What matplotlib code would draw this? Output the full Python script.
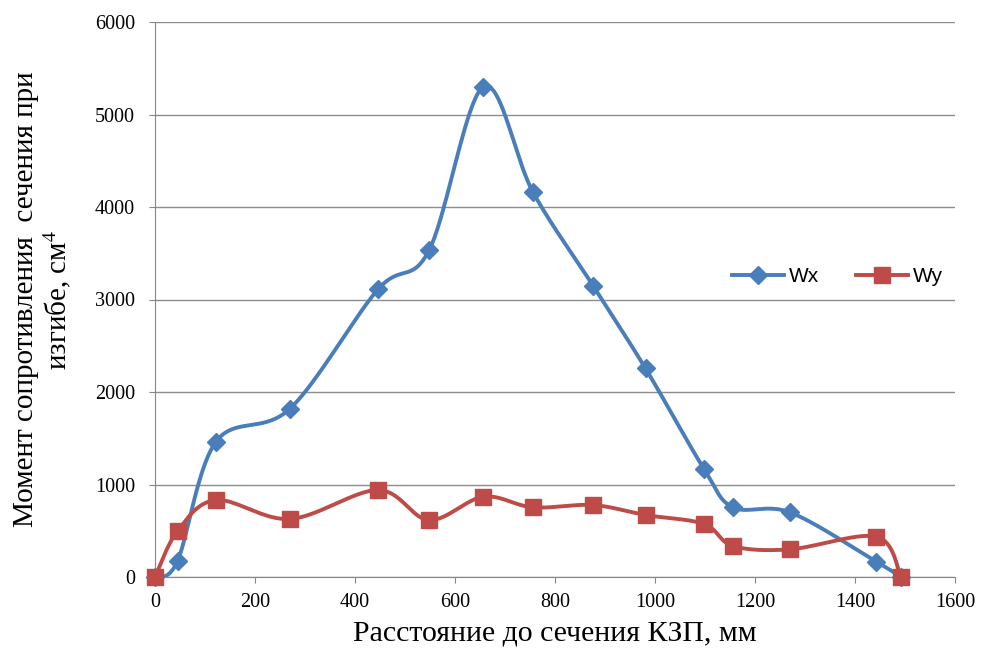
import numpy as np
import matplotlib
matplotlib.use("Agg")
import matplotlib.pyplot as plt
from matplotlib.lines import Line2D

plt.rcParams['font.family'] = ['Liberation Serif', 'DejaVu Serif']
plt.rcParams['mathtext.fontset'] = 'stix'

# расстояние до сечения, мм
dist = [0, 45, 122, 270, 446, 548, 657, 756, 876, 981, 1098, 1156, 1270, 1443, 1492]
wx = [0, 173, 1463, 1820, 3110, 3530, 5300, 4160, 3150, 2255, 1168, 753, 699, 165, 0]
wy = [0, 497, 832, 627, 940, 616, 868, 753, 778, 670, 573, 335, 299, 436, 0]

x_ticks = [0, 200, 400, 600, 800, 1000, 1200, 1400, 1600]
y_ticks = [0, 1000, 2000, 3000, 4000, 5000, 6000]


def smooth(xs, ys, n=40):
    # excel-like smoothed line (cardinal bezier through the points)
    p = np.column_stack([xs, ys]).astype(float)
    out = [p[0]]
    for i in range(len(p) - 1):
        p0 = p[i - 1] if i > 0 else p[i]
        p3 = p[i + 2] if i + 2 < len(p) else p[i + 1]
        c1 = p[i] + (p[i + 1] - p0) / 6
        c2 = p[i + 1] - (p3 - p[i]) / 6
        t = np.linspace(0, 1, n)[1:, None]
        seg = ((1 - t) ** 3 * p[i] + 3 * (1 - t) ** 2 * t * c1
               + 3 * (1 - t) * t ** 2 * c2 + t ** 3 * p[i + 1])
        out.extend(seg)
    out = np.array(out)
    return out[:, 0], out[:, 1]


fig = plt.figure(figsize=(9.84, 6.57), dpi=100)
ax = fig.add_axes([155 / 984, 1 - 577 / 657, 800 / 984, 555 / 657])

blue = '#4a7ebb'
red = '#be4b48'
lw = 2.8

sx, sy = smooth(dist, wx)
ax.plot(sx, sy, color=blue, lw=lw, zorder=3, solid_capstyle='round')
ax.plot(dist, wx, ls='none', marker='D', ms=9.5, color=blue, zorder=4, clip_on=False)

sx, sy = smooth(dist, wy)
ax.plot(sx, sy, color=red, lw=lw, zorder=3, solid_capstyle='round')
ax.plot(dist, wy, ls='none', marker='s', ms=11.5, color=red, zorder=5, clip_on=False)

ax.set_xlim(0, 1600)
ax.set_ylim(0, 6000)
ax.set_xticks(x_ticks)
ax.set_yticks(y_ticks)
ax.tick_params(labelsize=14.5, colors='#868686', labelcolor='black', length=4.5)
ax.tick_params(axis='x', pad=7)
ax.tick_params(axis='y', pad=10)
ax.yaxis.grid(True, color='#8c8c8c', lw=1)
ax.set_axisbelow(True)
for s in ['top', 'right']:
    ax.spines[s].set_visible(False)
for s in ['left', 'bottom']:
    ax.spines[s].set_color('#868686')

ax.set_xlabel('Расстояние до сечения КЗП, мм', fontsize=21.5, labelpad=6)
ax.set_ylabel('Момент сопротивления  сечения при\nизгибе, см$^4$', fontsize=21,
              labelpad=16, linespacing=1.05)

handles = [Line2D([], [], color=blue, lw=lw, marker='D', ms=9.5),
           Line2D([], [], color=red, lw=lw, marker='s', ms=11.5)]
ax.legend(handles, ['Wx', 'Wy'], loc='center', bbox_to_anchor=(0.853, 0.541),
          ncol=2, frameon=False, handlelength=2.5, columnspacing=1.8,
          handletextpad=0.2, prop={'family': 'Liberation Sans', 'size': 15})

fig.savefig('out.png', dpi=100)
